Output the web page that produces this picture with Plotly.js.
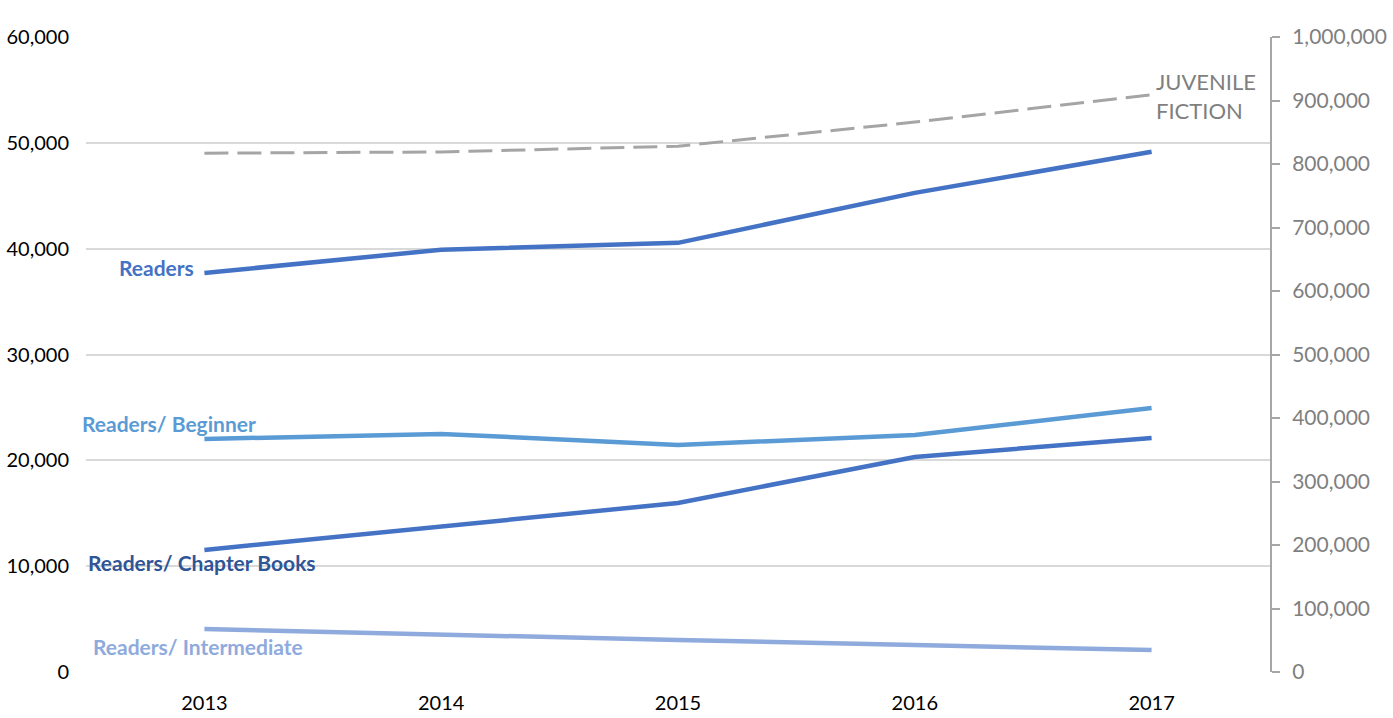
<!DOCTYPE html>
<html>
<head>
<meta charset="utf-8">
<script src="https://cdn.plot.ly/plotly-3.0.1.min.js"></script>
<style>
  body { margin: 0; background: #fff; }
  #chart { width: 1393px; height: 718px; }
</style>
</head>
<body>
<div id="chart"></div>
<script>
const years = ['2013', '2014', '2015', '2016', '2017'];
const readers = [37700, 39900, 40550, 45270, 49150];
const beginner = [22020, 22500, 21450, 22400, 24950];
const chapterBooks = [11530, 13700, 15970, 20320, 22120];
const intermediate = [4060, 3500, 3020, 2550, 2080];
const juvenileFiction = [817000, 819000, 828000, 866000, 909000];

const font = 'Lato, "Open Sans", sans-serif';

const line = (y, color, name) => ({
  x: years,
  y: y,
  name: name,
  mode: 'lines',
  line: { color: color, width: 4.5 },
});

const data = [
  line(readers, '#4472C4', 'Readers'),
  line(beginner, '#5B9BD5', 'Readers/ Beginner'),
  line(chapterBooks, '#4472C4', 'Readers/ Chapter Books'),
  line(intermediate, '#8FAADC', 'Readers/ Intermediate'),
  {
    x: years,
    y: juvenileFiction,
    name: 'JUVENILE FICTION',
    mode: 'lines',
    yaxis: 'y2',
    line: { color: '#A5A5A5', width: 3, dash: '24px,9px' },
  },
];

const label = (text, y, color, opts) =>
  Object.assign(
    {
      text: text,
      xref: 'x',
      yref: 'y',
      x: 0,
      y: y,
      showarrow: false,
      font: { family: font, size: 21, color: color },
    },
    opts
  );

const annotations = [
  label('<b>Readers</b>', 38200, '#4472C4', { xanchor: 'right', xshift: -8 }),
  label('<b>Readers/ Beginner</b>', 23450, '#5B9BD5', { xanchor: 'center', xshift: -35 }),
  label('<b>Readers/ Chapter Books</b>', 10300, '#2F5597', { xanchor: 'center', xshift: -2 }),
  label('<b>Readers/ Intermediate</b>', 2450, '#8FAADC', { xanchor: 'center', xshift: -6 }),
  {
    text: 'JUVENILE<br>FICTION',
    xref: 'x',
    yref: 'y',
    x: 4,
    y: 54400,
    xanchor: 'left',
    xshift: 2,
    align: 'left',
    showarrow: false,
    font: { family: font, size: 22, color: '#7F7F7F' },
  },
];

Plotly.newPlot(
  'chart',
  data,
  {
    width: 1393,
    height: 718,
    margin: { l: 86, r: 123, t: 37, b: 46 },
    paper_bgcolor: '#fff',
    plot_bgcolor: '#fff',
    showlegend: false,
    font: { family: font, size: 21, color: '#000' },
    xaxis: {
      type: 'category',
      range: [-0.5, 4.5],
      showgrid: false,
      zeroline: false,
      showline: false,
      ticks: '',
      ticklabelstandoff: 17,
      tickfont: { family: font, size: 20, color: '#000' },
    },
    yaxis: {
      range: [0, 60000],
      dtick: 10000,
      tickformat: ',',
      gridcolor: '#D9D9D9',
      gridwidth: 2,
      zeroline: false,
      showline: false,
      ticklabelstandoff: 16,
      tickfont: { family: font, size: 20, color: '#000' },
    },
    yaxis2: {
      overlaying: 'y',
      side: 'right',
      range: [0, 1000000],
      dtick: 100000,
      tickformat: ',',
      showgrid: false,
      zeroline: false,
      showline: true,
      linecolor: '#A6A6A6',
      linewidth: 2,
      ticks: 'outside',
      ticklen: 8,
      tickwidth: 2,
      tickcolor: '#A6A6A6',
      ticklabelstandoff: 8,
      tickfont: { family: font, size: 21, color: '#7F7F7F' },
    },
    annotations: annotations,
  },
  { displayModeBar: false }
);
</script>
</body>
</html>
